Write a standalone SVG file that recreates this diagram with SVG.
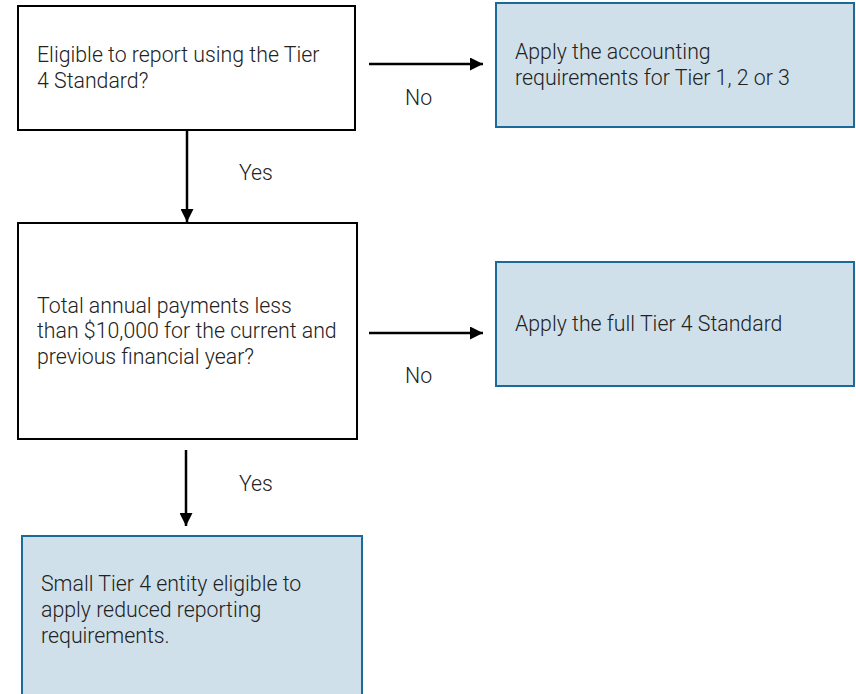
<svg xmlns="http://www.w3.org/2000/svg" width="856" height="694" viewBox="0 0 856 694">
<defs>
<marker id="ah" viewBox="0 0 10 10" refX="10" refY="5" markerWidth="5.8" markerHeight="5.2" orient="auto" markerUnits="strokeWidth">
<path d="M0,0 L10,5 L0,10 z" fill="#000"/>
</marker>
<style>
.q{fill:#fff;stroke:#000;stroke-width:2}
.r{fill:#cfe0ea;stroke:#1b6a9a;stroke-width:2}
text{font-family:Roboto,"Liberation Sans",sans-serif;font-weight:300;font-size:21.3px;fill:#222}
.c line{stroke:#000;stroke-width:2.5;marker-end:url(#ah)}
</style>
</defs>
<rect width="856" height="694" fill="#fff"/>
<g id="n1"><rect class="q" x="18" y="6" width="337" height="124"/>
<text x="37" y="62">Eligible to report using the Tier</text><text x="37" y="88">4 Standard?</text></g>
<g id="n2"><rect class="r" x="496" y="3" width="358" height="124"/>
<text x="515" y="59">Apply the accounting</text><text x="515" y="85">requirements for Tier 1, 2 or 3</text></g>
<g id="n3"><rect class="q" x="18" y="223" width="339" height="216"/>
<text x="37" y="313">Total annual payments less</text><text x="37" y="338">than $10,000 for the current and</text><text x="37" y="364">previous financial year?</text></g>
<g id="n4"><rect class="r" x="496" y="262" width="358" height="124"/>
<text x="515" y="331">Apply the full Tier 4 Standard</text></g>
<g id="n5"><rect class="r" x="22" y="536" width="340" height="170"/>
<text x="41" y="591">Small Tier 4 entity eligible to</text><text x="41" y="617">apply reduced reporting</text><text x="41" y="643">requirements.</text></g>
<g class="c" id="connectors">
<line x1="369" y1="64" x2="483" y2="64"/>
<line x1="369" y1="333" x2="483" y2="333"/>
<line x1="187" y1="130" x2="187" y2="222"/>
<line x1="186" y1="450" x2="186" y2="526"/>
<text x="405" y="105">No</text>
<text x="405" y="383">No</text>
<text x="239" y="180">Yes</text>
<text x="239" y="491">Yes</text>
</g>
</svg>
